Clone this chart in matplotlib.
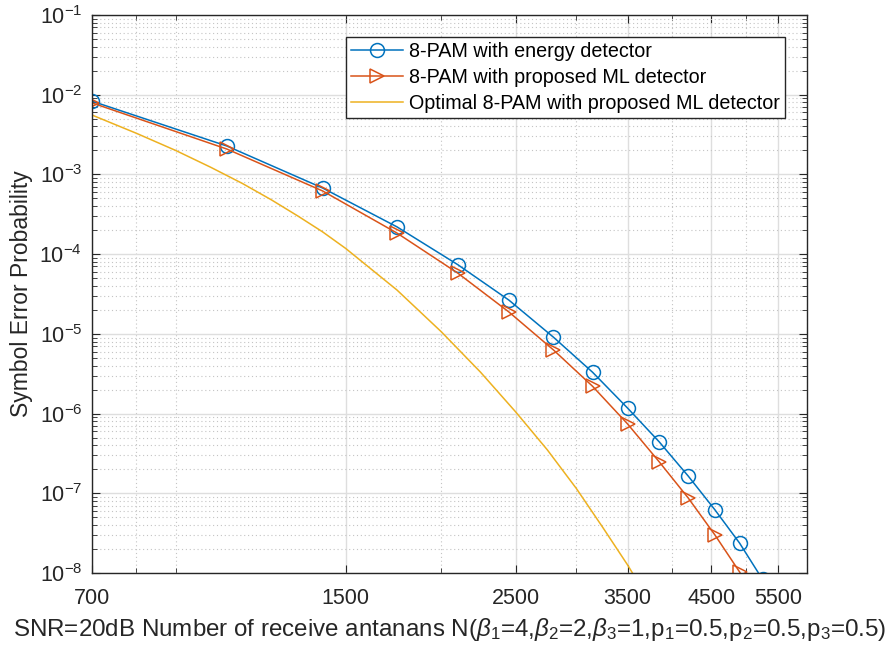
import numpy as np
import matplotlib.pyplot as plt
from matplotlib.ticker import FixedLocator, LogLocator, NullFormatter

plt.rcParams['font.family'] = ['Liberation Sans', 'DejaVu Sans']
plt.rcParams['mathtext.fontset'] = 'custom'
plt.rcParams['mathtext.rm'] = 'Liberation Sans'
plt.rcParams['mathtext.it'] = 'Liberation Sans:italic'
plt.rcParams['mathtext.bf'] = 'Liberation Sans:bold'

# number of receive antennas (markers every 350)
N = [700, 1050, 1400, 1750, 2100, 2450, 2800, 3150, 3500, 3850, 4200, 4550, 4900, 5250]
ser_energy = [8.3e-3, 2.27e-3, 6.75e-4, 2.2e-4, 7.4e-5, 2.65e-5, 9.1e-6, 3.3e-6,
              1.17e-6, 4.4e-7, 1.64e-7, 6.2e-8, 2.37e-8, 8.3e-9]
ser_ml = [7.9e-3, 2.08e-3, 6.2e-4, 1.84e-4, 5.8e-5, 1.88e-5, 6.3e-6, 2.2e-6,
          7.4e-7, 2.47e-7, 8.7e-8, 3.0e-8, 1.03e-8, 3.3e-9]
# optimal curve, read on a finer grid
N_opt = [700, 800, 900, 1000, 1100, 1200, 1300, 1400, 1500, 1750, 2000, 2250,
         2500, 2750, 3000, 3250, 3500, 3750]
ser_opt = [5.56e-3, 3.28e-3, 2.0e-3, 1.23e-3, 7.7e-4, 4.8e-4, 3.0e-4, 1.9e-4,
           1.18e-4, 3.55e-5, 1.06e-5, 3.3e-6, 1.05e-6, 3.5e-7, 1.15e-7, 3.7e-8,
           1.26e-8, 4.2e-9]

xticks = [700, 1500, 2500, 3500, 4500, 5500]
xminor = [800, 900, 2000, 3000, 4000, 5000, 6000]

blue = '#0072BD'
red = '#D95319'
yellow = '#EDB120'
dark = '#262626'

fig = plt.figure(figsize=(8.94, 6.53), dpi=100)
ax = fig.add_axes([92/894, 1-573/653, 715/894, 558/653])

ax.plot(N, ser_energy, '-o', color=blue, lw=1.1, ms=10, mfc='none', mew=1.1,
        label='8-PAM with energy detector')
ax.plot(N, ser_ml, '->', color=red, lw=1.1, ms=10, mfc='none', mew=1.1,
        label='8-PAM with proposed ML detector')
ax.plot(N_opt, ser_opt, '-', color=yellow, lw=1.1,
        label='Optimal 8-PAM with proposed ML detector')

ax.set_xscale('log')
ax.set_yscale('log')
ax.set_xlim(700, 6000)
ax.set_ylim(1e-8, 1e-1)

ax.xaxis.set_major_locator(FixedLocator(xticks))
ax.set_xticklabels([str(t) for t in xticks])
ax.xaxis.set_minor_locator(FixedLocator(xminor))
ax.xaxis.set_minor_formatter(NullFormatter())
ax.yaxis.set_major_locator(LogLocator(base=10, numticks=20))
ax.yaxis.set_minor_locator(LogLocator(base=10, subs=np.arange(2, 10), numticks=20))
ax.yaxis.set_minor_formatter(NullFormatter())

ax.grid(True, which='major', color='#dedede', lw=1.0, ls='-')
ax.grid(True, which='minor', color='#c4c4c4', lw=0.8, ls=(0, (1, 2.5)))
ax.set_axisbelow(True)

ax.tick_params(which='both', direction='in', top=True, right=True, colors=dark,
               labelcolor='#262626', labelsize=15.5)
ax.tick_params(axis='x', which='major', length=6, pad=11)
ax.tick_params(axis='y', which='major', length=6, pad=7)
ax.tick_params(which='minor', length=3.5)
for s in ax.spines.values():
    s.set_color(dark)
    s.set_linewidth(1.0)

ax.set_ylabel('Symbol Error Probability', fontsize=16.5, color='#262626', labelpad=5)
ax.set_xlabel(r'SNR=20dB Number of receive antanans N($\beta_1$=4,$\beta_2$=2,$\beta_3$=1,'
              r'p$_1$=0.5,p$_2$=0.5,p$_3$=0.5)', fontsize=17.4, color='#262626', labelpad=5)

leg = ax.legend(loc='upper right', bbox_to_anchor=(0.969, 0.9606), borderaxespad=0,
                fontsize=14.2, fancybox=False, framealpha=1, edgecolor=dark,
                handlelength=2.65, handletextpad=0.3, borderpad=0.25, labelspacing=0.36)
leg.get_frame().set_linewidth(1.0)

fig.savefig('out.png', dpi=100)
